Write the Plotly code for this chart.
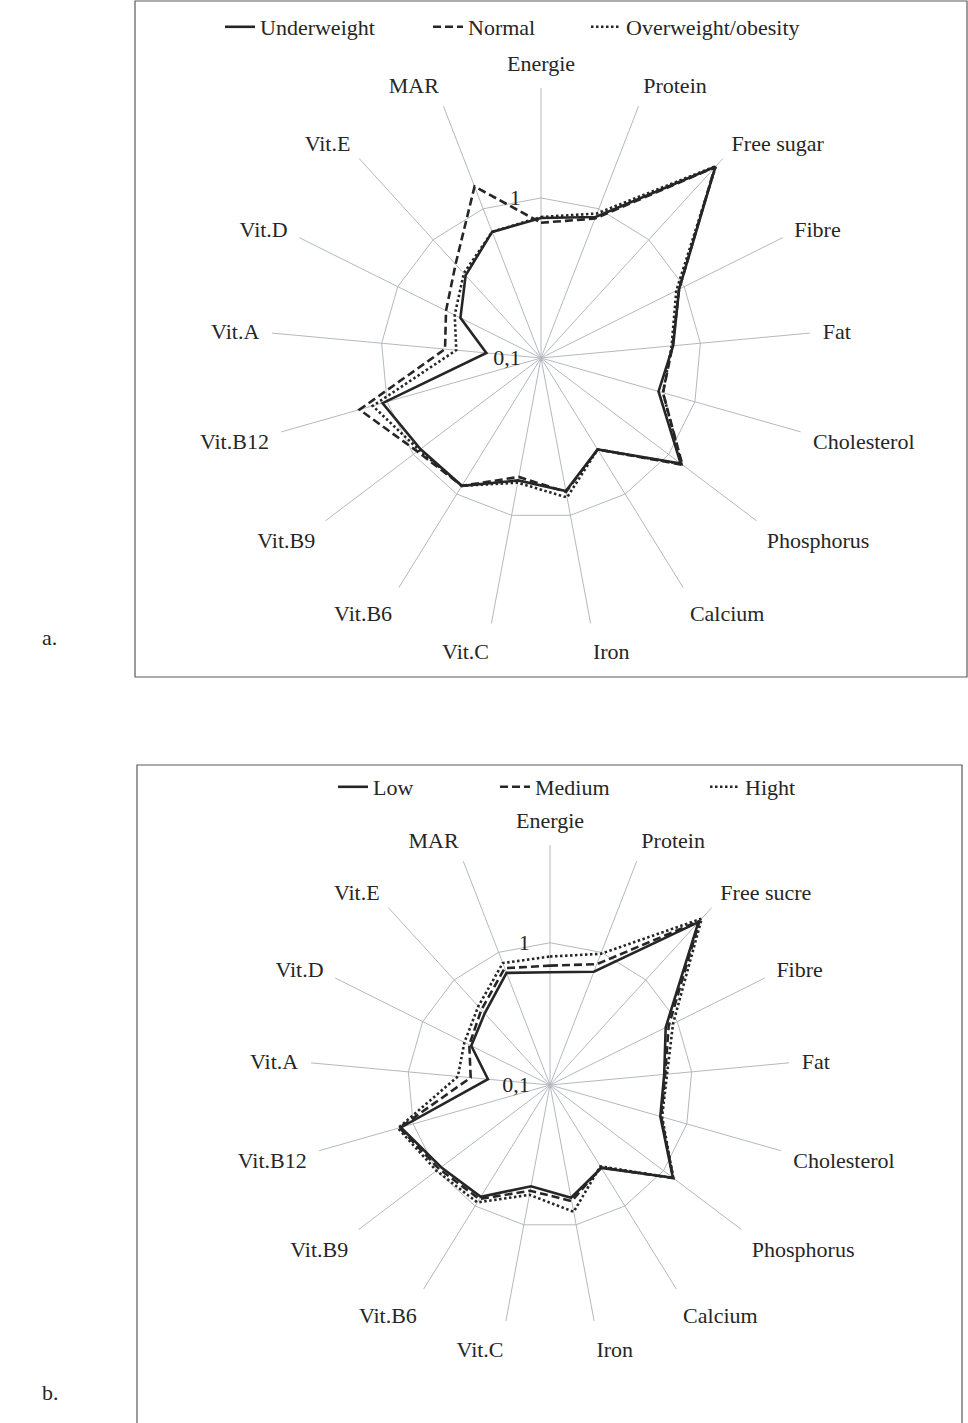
import plotly.graph_objects as go

# ---------------- data ----------------
categories_a = ["Energie", "Protein", "Free sugar", "Fibre", "Fat", "Cholesterol",
                "Phosphorus", "Calcium", "Iron", "Vit.C", "Vit.B6", "Vit.B9",
                "Vit.B12", "Vit.A", "Vit.D", "Vit.E", "MAR"]
underweight = [0.75, 0.88, 4.15, 0.92, 0.675, 0.58, 1.24, 0.47, 0.70, 0.60, 0.87, 0.88,
               1.07, 0.22, 0.365, 0.50, 0.70]
normal = [0.70, 0.86, 4.10, 0.92, 0.67, 0.62, 1.28, 0.47, 0.71, 0.57, 0.87, 0.93,
          1.51, 0.40, 0.46, 0.62, 1.41]
overweight = [0.76, 0.93, 4.20, 0.88, 0.66, 0.62, 1.26, 0.47, 0.77, 0.62, 0.87, 0.90,
              1.24, 0.34, 0.40, 0.52, 0.70]

categories_b = ["Energie", "Protein", "Free sucre", "Fibre", "Fat", "Cholesterol",
                "Phosphorus", "Calcium", "Iron", "Vit.C", "Vit.B6", "Vit.B9",
                "Vit.B12", "Vit.A", "Vit.D", "Vit.E", "MAR"]
low = [0.62, 0.714, 3.54, 0.81, 0.64, 0.64, 1.21, 0.485, 0.64, 0.53, 0.84, 0.91,
       1.23, 0.274, 0.415, 0.48, 0.70]
medium = [0.69, 0.814, 3.64, 0.855, 0.65, 0.65, 1.22, 0.48, 0.677, 0.57, 0.877, 0.95,
          1.26, 0.363, 0.43, 0.52, 0.76]
hight = [0.80, 0.975, 3.83, 0.925, 0.67, 0.66, 1.22, 0.47, 0.807, 0.61, 0.935, 1.00,
         1.29, 0.447, 0.47, 0.56, 0.83]

series_a = ["Underweight", "Normal", "Overweight/obesity"]
series_b = ["Low", "Medium", "Hight"]

radial_ticks = [0.1, 1]
radial_ticktext = ["0,1", "1"]

# ---------------- styling ----------------
W, H = 968, 1423
FONT = "Liberation Serif, Times New Roman, serif"
INK = "#262626"
GRID = "#b4b8bf"
styles = ["solid", "8px,4px", "2.5px,2.5px"]
PAD = "\u00a0\u00a0\u00a0"
legend_x_a = [226, 434, 592]
legend_x_b = [339, 501, 711]


def closed(v):
    return list(v) + [v[0]]


def px_x(v):
    return v / W


def px_y(v):
    return 1 - v / H


fig = go.Figure()
legend_layout = {}
k = 0
for subplot, names, datasets, lxs, ly in [
        ("polar", series_a, [underweight, normal, overweight], legend_x_a, 27),
        ("polar2", series_b, [low, medium, hight], legend_x_b, 787)]:
    cats = categories_a if subplot == "polar" else categories_b
    for name, vals, dash, lx in zip(names, datasets, styles, lxs):
        k += 1
        lname = "legend" if k == 1 else f"legend{k}"
        fig.add_trace(go.Scatterpolar(
            r=closed(vals), theta=closed(cats), mode="lines", name=name, showlegend=True,
            line=dict(color=INK, width=2.6, dash=dash), subplot=subplot, legend=lname))
        legend_layout[lname] = dict(
            visible=True,
            orientation="h", x=px_x(lx - 6), xanchor="left", y=px_y(ly), yanchor="middle",
            font=dict(family=FONT, size=22, color=INK), bgcolor="rgba(0,0,0,0)")


def polar_cfg(cx, cy, R, cats):
    return dict(
        domain=dict(x=[px_x(cx - R), px_x(cx + R)], y=[px_y(cy + R), px_y(cy - R)]),
        bgcolor="white",
        gridshape="linear",
        angularaxis=dict(
            type="category", categoryarray=cats, direction="clockwise", rotation=90,
            showline=False, showgrid=True, gridcolor=GRID, gridwidth=1,
            ticks="outside", ticklen=8, tickcolor="rgba(0,0,0,0)",
            tickfont=dict(family=FONT, size=22, color=INK),
        ),
        radialaxis=dict(
            type="log", range=[-1.0005, 0.6875], angle=90, side="counterclockwise",
            tickvals=radial_ticks, ticktext=[t + PAD for t in radial_ticktext], tickangle=90,
            showline=False, showgrid=True, gridcolor=GRID, gridwidth=1,
            ticks="", tickfont=dict(family=FONT, size=22, color=INK),
        ),
    )


fig.update_layout(
    width=W, height=H,
    showlegend=True,
    margin=dict(l=0, r=0, t=0, b=0),
    paper_bgcolor="white", plot_bgcolor="white",
    font=dict(family=FONT, size=22, color=INK),
    polar=polar_cfg(541, 358, 270, categories_a),
    polar2=polar_cfg(550, 1085, 240, categories_b),
    shapes=[
        dict(type="rect", xref="paper", yref="paper", x0=px_x(135), x1=px_x(967),
             y0=px_y(677), y1=px_y(1), line=dict(color="#5a5a5a", width=1.2)),
        dict(type="rect", xref="paper", yref="paper", x0=px_x(137), x1=px_x(962),
             y0=px_y(1430), y1=px_y(765), line=dict(color="#5a5a5a", width=1.2)),
    ],
    annotations=[
        dict(text="a.", xref="paper", yref="paper", x=px_x(40), y=px_y(637), xanchor="left",
             yanchor="middle", showarrow=False, font=dict(family=FONT, size=22, color=INK)),
        dict(text="b.", xref="paper", yref="paper", x=px_x(40), y=px_y(1392), xanchor="left",
             yanchor="middle", showarrow=False, font=dict(family=FONT, size=22, color=INK)),
    ],
    **legend_layout,
)

fig.write_html("out.html", config={"displayModeBar": False},
               post_script="document.body.style.margin='0px';")
